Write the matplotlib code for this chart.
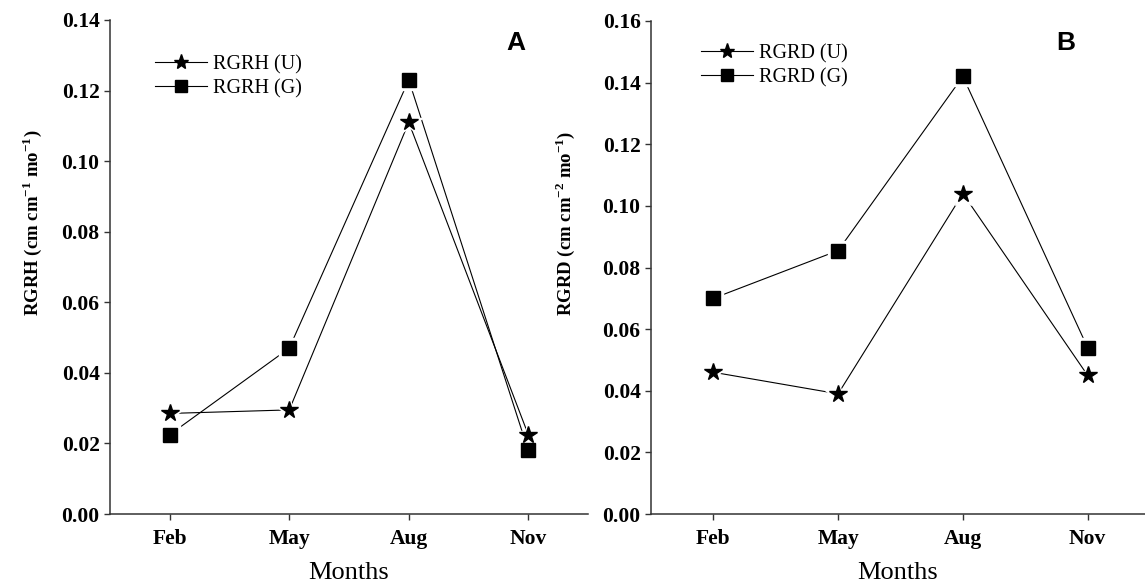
import matplotlib
matplotlib.use("Agg")
import matplotlib.pyplot as plt
from matplotlib.ticker import FormatStrFormatter, MultipleLocator

# Data
months = ["Feb", "May", "Aug", "Nov"]
rgrh_u = [0.0285, 0.0295, 0.111, 0.0225]
rgrh_g = [0.0225, 0.047, 0.123, 0.018]
rgrd_u = [0.046, 0.039, 0.104, 0.045]
rgrd_g = [0.070, 0.0855, 0.142, 0.054]

plt.rcParams['font.family'] = ['Liberation Serif', 'DejaVu Serif']
plt.rcParams['mathtext.fontset'] = 'custom'
plt.rcParams['mathtext.rm'] = 'Liberation Serif'
plt.rcParams['mathtext.bf'] = 'Liberation Serif:bold'

W, H = 1145, 588
fig = plt.figure(figsize=(W / 100, H / 100), dpi=100)

def box(x0, x1, ytop, ybot):
    return [x0 / W, 1 - ybot / H, (x1 - x0) / W, (ybot - ytop) / H]

ax1 = fig.add_axes(box(110, 588, 20, 514))
ax2 = fig.add_axes(box(651, 1145, 21, 514))

x = list(range(len(months)))


def draw(ax, u, g):
    # lines with small gaps around the markers (Origin style)
    ax.plot(x, u, color='black', lw=0.8, zorder=1)
    ax.plot(x, g, color='black', lw=0.8, zorder=1)
    ax.plot(x, u, ls='none', marker='*', ms=19, color='white', zorder=2)
    ax.plot(x, g, ls='none', marker='s', ms=14, color='white', zorder=2)
    ax.plot(x, u, ls='none', marker='*', ms=13, color='black', zorder=3)
    ax.plot(x, g, ls='none', marker='s', ms=9.5, color='black', zorder=3)
    # legend proxies
    hu, = ax.plot([], [], color='black', lw=0.8, marker='*', ms=11)
    hg, = ax.plot([], [], color='black', lw=0.8, marker='s', ms=8)
    return hu, hg


def style(ax, ymax, ylabel, lx):
    ax.set_ylim(0, ymax)
    ax.set_xticks(x)
    ax.set_xticklabels(months)
    ax.yaxis.set_major_locator(MultipleLocator(0.02))
    ax.yaxis.set_major_formatter(FormatStrFormatter('%.2f'))
    for s in ['top', 'right']:
        ax.spines[s].set_visible(False)
    for s in ['left', 'bottom']:
        ax.spines[s].set_linewidth(1.1)
        ax.spines[s].set_color('#333333')
    ax.tick_params(direction='out', length=4.5, width=1.0, color='#333333')
    ax.tick_params(axis='x', pad=6)
    ax.tick_params(axis='y', pad=3)
    for t in ax.get_xticklabels() + ax.get_yticklabels():
        t.set_fontweight('bold')
        t.set_fontsize(15.5)
    ax.set_xlabel('Months', fontsize=19, labelpad=10)
    ax.set_ylabel(ylabel, fontsize=13.5, fontweight='bold')
    ax.yaxis.set_label_coords(lx, 0.59)


hu, hg = draw(ax1, rgrh_u, rgrh_g)
ax1.set_xlim(-0.5, 3.5)
style(ax1, 0.14, r'RGRH (cm cm$^{\mathbf{-1}}$ mo$^{\mathbf{-1}}$)', -0.138)
fig.legend([hu, hg], ['RGRH (U)', 'RGRH (G)'], loc='upper left',
           bbox_to_anchor=(155 / W, 1 - 55 / H), frameon=False, fontsize=14.5,
           handlelength=2.6, handletextpad=0.3, labelspacing=0.25,
           borderpad=0, borderaxespad=0, numpoints=1)
fig.text(516 / W, 1 - 43 / H, 'A', ha='center', va='center',
         fontsize=19, fontweight='bold', family='Liberation Sans')

hu2, hg2 = draw(ax2, rgrd_u, rgrd_g)
ax2.set_xlim(-0.5, 3.46)
style(ax2, 0.16, r'RGRD (cm cm$^{\mathbf{-2}}$ mo$^{\mathbf{-1}}$)', -0.15)
fig.legend([hu2, hg2], ['RGRD (U)', 'RGRD (G)'], loc='upper left',
           bbox_to_anchor=(701 / W, 1 - 44 / H), frameon=False, fontsize=14.5,
           handlelength=2.6, handletextpad=0.3, labelspacing=0.25,
           borderpad=0, borderaxespad=0, numpoints=1)
fig.text(1066 / W, 1 - 43 / H, 'B', ha='center', va='center',
         fontsize=19, fontweight='bold', family='Liberation Sans')

fig.savefig('out.png', dpi=100)
